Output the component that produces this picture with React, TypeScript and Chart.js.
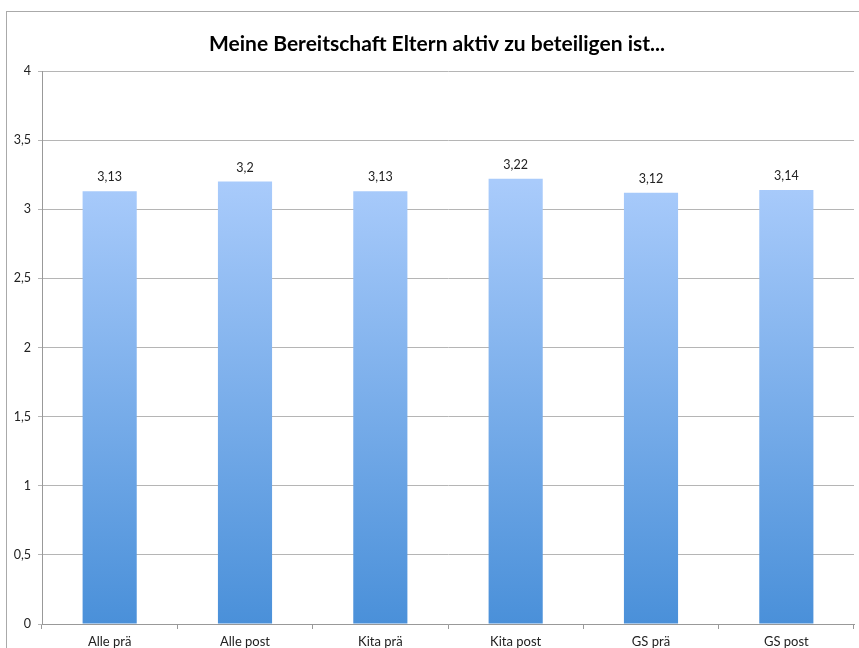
import React, { useEffect, useRef } from "react";
import { Chart, registerables } from "chart.js";

Chart.register(...registerables);

const categories = ["Alle prä", "Alle post", "Kita prä", "Kita post", "GS prä", "GS post"];
const values = [3.13, 3.2, 3.13, 3.22, 3.12, 3.14];
const titleText = "Meine Bereitschaft Eltern aktiv zu beteiligen ist...";
const FONT = "Lato, 'Open Sans', sans-serif";

const fmt = (v: number) => String(v).replace(".", ",");

const titlePlugin = {
  id: "customTitle",
  afterDraw(chart: any) {
    const ctx = chart.ctx;
    ctx.save();
    ctx.font = `bold 21px ${FONT}`;
    ctx.fillStyle = "#000";
    ctx.textAlign = "center";
    ctx.textBaseline = "middle";
    ctx.fillText(titleText, 437, 44);
    ctx.restore();
  },
};

const labelPlugin = {
  id: "valueLabels",
  afterDatasetsDraw(chart: any) {
    const ctx = chart.ctx;
    const meta = chart.getDatasetMeta(0);
    ctx.save();
    ctx.font = `12.5px ${FONT}`;
    ctx.fillStyle = "#222";
    ctx.textAlign = "center";
    ctx.textBaseline = "middle";
    meta.data.forEach((el: any, i: number) => {
      ctx.fillText(fmt(values[i]), el.x, el.y - 14);
    });
    ctx.restore();
  },
};

export default function App() {
  const ref = useRef<HTMLCanvasElement>(null);
  useEffect(() => {
    document.body.style.margin = "0";
    const chart = new Chart(ref.current!, {
      type: "bar",
      data: {
        labels: categories,
        datasets: [
          {
            data: values,
            backgroundColor: (c: any) => {
              const area = c.chart.chartArea;
              if (!area) return "#7aaee8";
              const y0 = c.chart.scales.y.getPixelForValue(0);
              const y1 = c.chart.scales.y.getPixelForValue(3.2);
              const g = c.chart.ctx.createLinearGradient(0, y0, 0, y1);
              g.addColorStop(0, "#4a90d9");
              g.addColorStop(1, "#a9cbfb");
              return g;
            },
            borderWidth: 0,
            barPercentage: 0.4,
            categoryPercentage: 1,
          },
        ],
      },
      options: {
        animation: false,
        responsive: false,
        maintainAspectRatio: false,
        layout: { padding: { top: 71, right: 5, left: 0, bottom: 0 } },
        plugins: { legend: { display: false }, tooltip: { enabled: false }, title: { display: false } },
        scales: {
          x: {
            offset: true,
            grid: { offset: true, drawOnChartArea: false, drawTicks: true, tickLength: 5, color: "#999" },
            border: { color: "#999", width: 1 },
            ticks: { font: { family: FONT, size: 13 }, color: "#222", padding: 5, maxRotation: 0 },
            afterFit: (s: any) => { s.height = 24; },
          },
          y: {
            min: 0,
            max: 4,
            ticks: {
              stepSize: 0.5,
              font: { family: FONT, size: 12.5 },
              color: "#222",
              padding: 7,
              callback: (v: any) => fmt(Number(v)),
            },
            grid: { color: "#b5b5b5", tickLength: 4 },
            border: { color: "#999", width: 1 },
            afterFit: (s: any) => { s.width = 42; },
          },
        },
      },
      plugins: [titlePlugin, labelPlugin],
    });
    return () => chart.destroy();
  }, []);
  return (
    <div style={{ position: "relative", width: 859, height: 648, overflow: "hidden", background: "#fff" }}>
      <div style={{ position: "absolute", left: 6, top: 11, width: 900, height: 700, border: "1px solid #aaa", boxSizing: "border-box" }} />
      <canvas ref={ref} width={859} height={648} style={{ position: "absolute", left: 0, top: 0 }} />
    </div>
  );
}
